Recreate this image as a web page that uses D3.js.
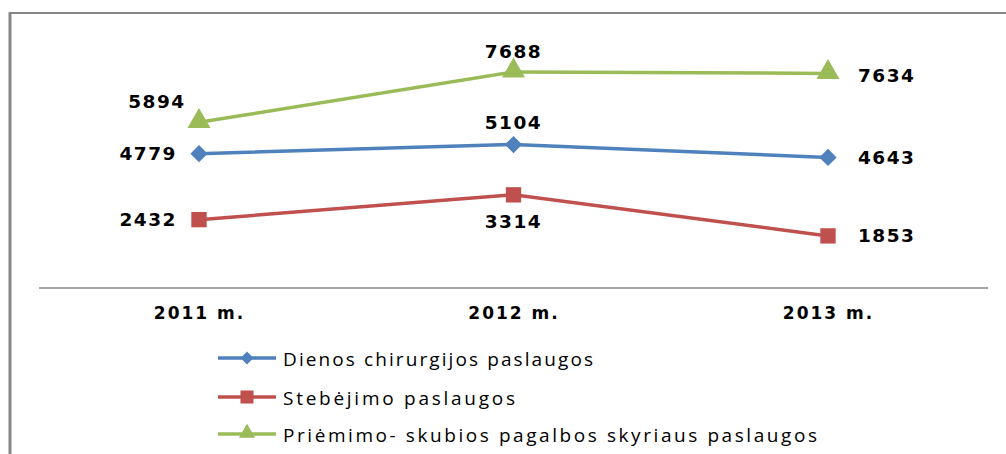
<!DOCTYPE html>
<html>
<head>
<meta charset="utf-8">
<script src="https://cdn.jsdelivr.net/npm/d3@7"></script>
<style>
  body { margin: 0; background: #fff; }
</style>
</head>
<body>
<div id="chart"></div>
<script>
// data
const years = ["2011 m.", "2012 m.", "2013 m."];
const dienos = [4779, 5104, 4643];
const stebejimo = [2432, 3314, 1853];
const priemimo = [5894, 7688, 7634];
const seriesNames = [
  "Dienos chirurgijos paslaugos",
  "Stebėjimo paslaugos",
  "Priėmimo- skubios pagalbos skyriaus paslaugos"
];

const width = 1006, height = 454;

const svg = d3.select("#chart")
  .append("svg")
    .attr("width", width)
    .attr("height", height);

// frame (top + left only visible)
svg.append("line").attr("x1", 9).attr("x2", 1006).attr("y1", 13).attr("y2", 13)
  .attr("stroke", "#868686").attr("stroke-width", 2);
svg.append("line").attr("x1", 10).attr("x2", 10).attr("y1", 12).attr("y2", height)
  .attr("stroke", "#868686").attr("stroke-width", 3);

const x = d3.scalePoint()
  .domain(years)
  .range([199, 828]);

const y = d3.scaleLinear()
  .domain([0, 9000])
  .range([288, 35]);

// category axis
const xAxis = svg.append("g")
  .attr("transform", `translate(0,${y(0)})`)
  .call(d3.axisBottom(x).tickSize(0).tickPadding(19));
xAxis.select(".domain").remove();
xAxis.append("line")
  .attr("x1", 39).attr("x2", 988)
  .attr("stroke", "#868686").attr("stroke-width", 1.5);
xAxis.selectAll(".tick text")
  .attr("font-family", "DejaVu Sans")
  .attr("font-weight", "bold")
  .attr("font-size", 17)
  .attr("letter-spacing", 2)
  .attr("fill", "#000");

const series = [
  {name: seriesNames[0], values: dienos, color: "#4F81BD", shape: "diamond",
   lab: [{dx: -22, dy: 0, anchor: "end"}, {dx: 0, dy: -22, anchor: "middle"}, {dx: 30, dy: 0, anchor: "start"}]},
  {name: seriesNames[1], values: stebejimo, color: "#C0504D", shape: "square",
   lab: [{dx: -22, dy: 0, anchor: "end"}, {dx: 0, dy: 27, anchor: "middle"}, {dx: 30, dy: 0, anchor: "start"}]},
  {name: seriesNames[2], values: priemimo, color: "#9BBB59", shape: "triangle",
   lab: [{dx: -42, dy: -21, anchor: "middle"}, {dx: 0, dy: -20, anchor: "middle"}, {dx: 30, dy: 2, anchor: "start"}]}
];

const symbols = {
  diamond: d3.symbol().type(d3.symbolDiamond2).size(190),
  square: d3.symbol().type(d3.symbolSquare2).size(300),
  triangle: d3.symbol().type(d3.symbolTriangle).size(230)
};

function drawMarker(g, shape, color, cx, cy, scale) {
  g.append("path")
    .attr("d", symbols[shape]())
    .attr("transform", `translate(${cx},${cy}) scale(${scale || 1})`)
    .attr("fill", color);
}

const line = d3.line()
  .x((d, i) => x(years[i]))
  .y(d => y(d));

series.forEach(s => {
  svg.append("path")
    .datum(s.values)
    .attr("d", line)
    .attr("fill", "none")
    .attr("stroke", s.color)
    .attr("stroke-width", 3.5);
});

series.forEach(s => {
  const g = svg.append("g");
  s.values.forEach((v, i) => {
    const cx = x(years[i]), cy = y(v) + (s.shape === "triangle" ? -1 : 0);
    drawMarker(g, s.shape, s.color, cx, cy);
    g.append("text")
      .attr("x", cx + s.lab[i].dx)
      .attr("y", y(v) + s.lab[i].dy)
      .attr("text-anchor", s.lab[i].anchor)
      .attr("dominant-baseline", "central")
      .attr("font-family", "DejaVu Sans")
      .attr("font-weight", "bold")
      .attr("font-size", 18.5)
      .attr("letter-spacing", 1.5)
      .attr("fill", "#000")
      .text(v);
  });
});

// legend
const legendY = [358, 397, 434];
const legendW = [310, 232, 534];
const legendScale = {diamond: 0.75, square: 0.85, triangle: 0.7};
series.forEach((s, i) => {
  const g = svg.append("g").attr("transform", `translate(0,${legendY[i]})`);
  g.append("line").attr("x1", 218).attr("x2", 276)
    .attr("stroke", s.color).attr("stroke-width", 3.5);
  drawMarker(g, s.shape, s.color, 247, s.shape === "triangle" ? -1 : 0, legendScale[s.shape]);
  g.append("text")
    .attr("x", 283)
    .attr("y", 1)
    .attr("dominant-baseline", "central")
    .attr("font-family", "Open Sans")
    .attr("font-size", 19)
    .attr("textLength", legendW[i])
    .attr("lengthAdjust", "spacing")
    .attr("fill", "#000")
    .text(s.name);
});
</script>
</body>
</html>
